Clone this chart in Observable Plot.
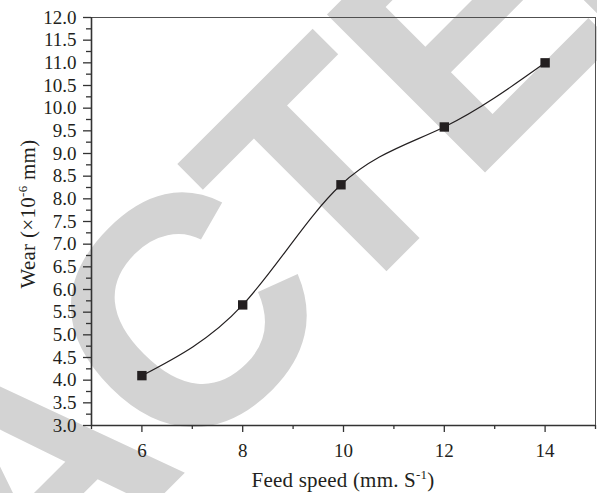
<!DOCTYPE html>
<html><head><meta charset="utf-8">
<script src="https://cdn.jsdelivr.net/npm/d3@7"></script>
<script src="https://cdn.jsdelivr.net/npm/@observablehq/plot@0.6"></script>
<style>
body{margin:0;background:#fff;}
#wrap{position:relative;width:597px;height:493px;overflow:hidden;}
#wm,#chart{position:absolute;left:0;top:0;}
</style>
</head><body><div id="wrap"><svg id="wm" width="597" height="493"></svg><div id="chart"></div></div>
<script>
const feedSpeed = [6, 8, 9.95, 12, 14];
const wear = [4.1, 5.66, 8.31, 9.585, 11.0];
const xTickValues = [6, 8, 10, 12, 14];
const xMinorValues = [5, 7, 9, 11, 13, 15];
const yTickValues = [3.0, 3.5, 4.0, 4.5, 5.0, 5.5, 6.0, 6.5, 7.0, 7.5, 8.0, 8.5, 9.0, 9.5, 10.0, 10.5, 11.0, 11.5, 12.0];
const yMinorValues = yTickValues.slice(0, -1).map(v => v + 0.25);
const xLabelMain = "Feed speed (mm. S";
const xLabelSup = "-1";
const xLabelEnd = ")";
const yLabelMain = "Wear (×10";
const yLabelSup = "-6";
const yLabelEnd = " mm)";
const watermarkText = "RETRACTED";

const table = feedSpeed.map((x, i) => ({x, y: wear[i]}));
const ink = "#231f20";
const font = "'Liberation Serif', 'Times New Roman', serif";

// watermark (separate layer behind the chart)
const wmSvg = d3.select("#wm");
const wmG = wmSvg.append("g").attr("transform", "rotate(-45)");
const wmStyle = "font-family:'Liberation Sans',Arial,sans-serif;font-weight:bold;font-size:325px;fill:#d3d3d3;";
const wt = wmG.append("text")
  .attr("style", wmStyle)
  .attr("x", 0)
  .attr("y", 465)
  .attr("dx", "0 0 0 0 0 -14 -20 -5 -25")
  .text(watermarkText);
let tPos = 0;
try { tPos = wt.node().getStartPositionOfChar(6).x; } catch (e) { tPos = 4.166 * 325 - 34; }
if (!(tPos > 100)) tPos = 4.166 * 325 - 34;
wt.attr("x", 5.7 - tPos);

const chart = Plot.plot({
  width: 597, height: 493,
  marginLeft: 91, marginRight: 2, marginTop: 17, marginBottom: 68,
  style: {fontFamily: font, background: "transparent", color: ink, overflow: "visible"},
  x: {domain: [5, 15]},
  y: {domain: [3, 12]},
  marks: [
    Plot.frame({stroke: "#505050", strokeWidth: 1}),
    Plot.axisY({ticks: yMinorValues, tickSize: 5, tickFormat: () => "", stroke: "#333", strokeWidth: 1.3, label: null}),
    Plot.axisY({ticks: yTickValues, tickSize: 8, tickPadding: 7, tickFormat: d => d.toFixed(1), fontSize: 19, fontFamily: font, fill: ink, stroke: "#333", strokeWidth: 1.3, label: null}),
    Plot.axisX({ticks: xMinorValues, tickSize: 4, tickFormat: () => "", stroke: "#333", strokeWidth: 1.3, label: null}),
    Plot.axisX({ticks: xTickValues, tickSize: 7, tickPadding: 11, fontSize: 19, fontFamily: font, fill: ink, stroke: "#333", strokeWidth: 1.3, label: null}),
    Plot.ruleX([5], {stroke: "#333", strokeWidth: 1.6}),
    Plot.ruleY([3], {stroke: "#333", strokeWidth: 1.6}),
    Plot.line(table, {x: "x", y: "y", curve: "natural", stroke: ink, strokeWidth: 1.2}),
    Plot.dot(table, {x: "x", y: "y", symbol: "square", r: 5.3, fill: ink, stroke: "none"})
  ]
});
document.getElementById("chart").appendChild(chart);

const svg = d3.select(chart);
// axis titles
const xl = svg.append("text")
  .attr("x", 343).attr("y", 487)
  .attr("text-anchor", "middle")
  .attr("style", `font-family:${font};font-size:21px;letter-spacing:0.2px;`)
  .attr("fill", ink);
xl.append("tspan").text(xLabelMain);
xl.append("tspan").attr("dy", -8).attr("style", "font-size:13px").text(xLabelSup);
xl.append("tspan").attr("dy", 8).text(xLabelEnd);

const yl = svg.append("text")
  .attr("transform", "translate(35,214) rotate(-90)")
  .attr("text-anchor", "middle")
  .attr("style", `font-family:${font};font-size:21px;letter-spacing:0.3px;`)
  .attr("fill", ink);
yl.append("tspan").text(yLabelMain);
yl.append("tspan").attr("dy", -8).attr("style", "font-size:13px").text(yLabelSup);
yl.append("tspan").attr("dy", 8).text(yLabelEnd);
</script>
</body></html>
